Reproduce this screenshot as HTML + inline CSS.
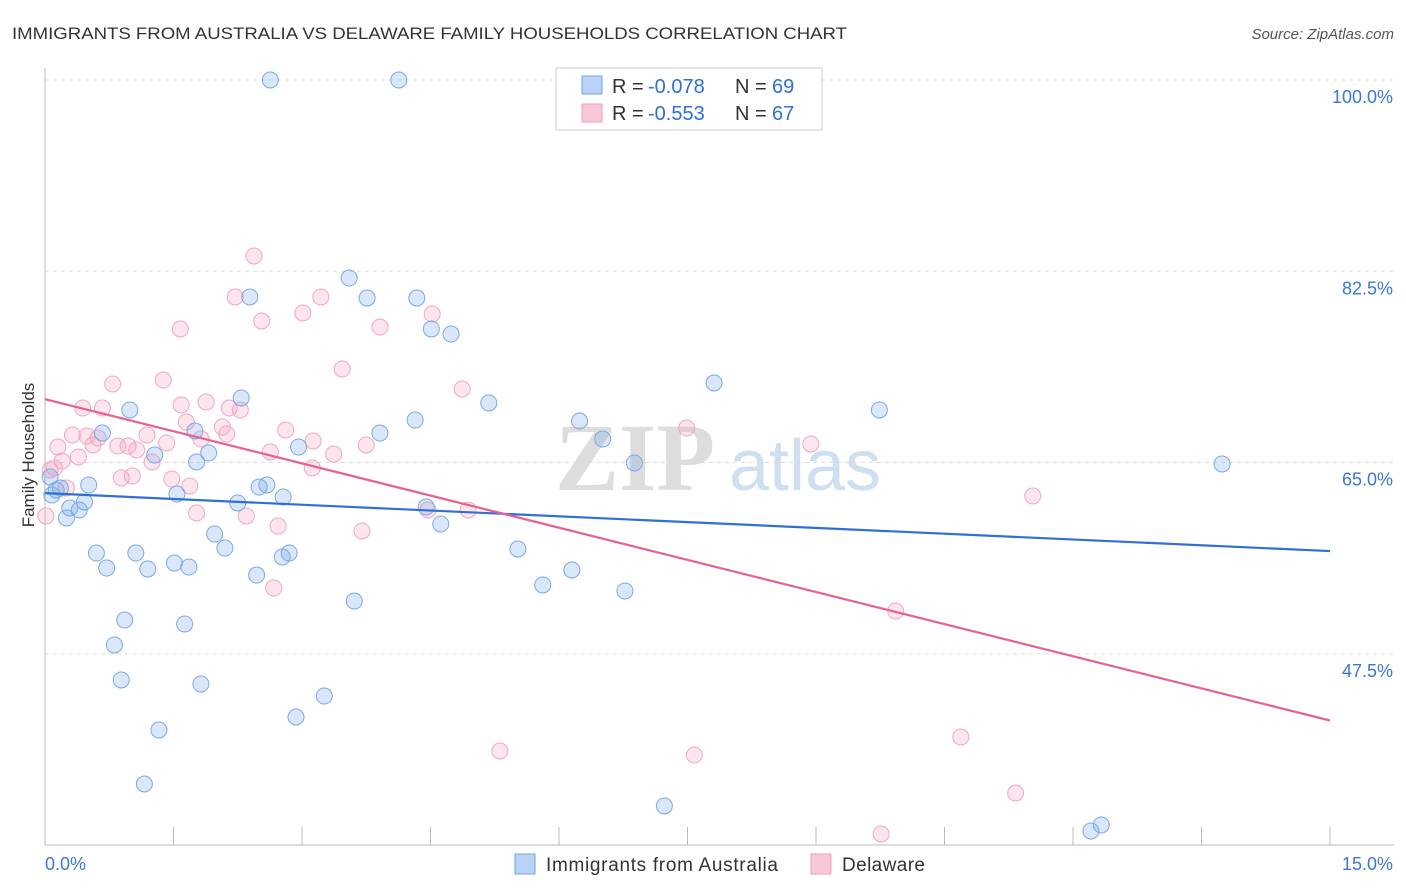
<!DOCTYPE html>
<html><head><meta charset="utf-8"><style>
body{margin:0;background:#fff;font-family:"Liberation Sans",sans-serif;}
svg{display:block}
</style></head><body>
<svg id="chart" width="1406" height="892">
<text x="12" y="39" font-size="17" fill="#333" textLength="835" lengthAdjust="spacingAndGlyphs">IMMIGRANTS FROM AUSTRALIA VS DELAWARE FAMILY HOUSEHOLDS CORRELATION CHART</text>
<text x="1394" y="39" font-size="15" fill="#555" font-style="italic" text-anchor="end">Source: ZipAtlas.com</text>
<g><text x="635" y="490" font-size="96" fill="#ddd" font-family="Liberation Serif" text-anchor="middle" font-weight="bold">ZIP</text><text x="805" y="490" font-size="72" fill="#cfdff2" text-anchor="middle">atlas</text></g>
<g id="grid"></g>
<g id="axes"></g>
<g id="points"></g>
<g id="lines"></g>
<text transform="translate(34,455) rotate(-90)" font-size="17" fill="#333" text-anchor="middle">Family Households</text>
<g>
<rect x="556" y="68" width="266" height="62" fill="#fff" stroke="#ccc"/>
<rect x="582" y="76" width="20" height="18" fill="#b8d3f5" stroke="#6fa3e0"/>
<rect x="582" y="104" width="20" height="18" fill="#f9c8d6" stroke="#eea0b8"/>
<text y="93" font-size="20" fill="#333"><tspan x="612">R =</tspan><tspan x="648" fill="#2f6fd6">-0.078</tspan><tspan x="735">N =</tspan><tspan x="772" fill="#2f6fd6">69</tspan></text>
<text y="120" font-size="20" fill="#333"><tspan x="612">R =</tspan><tspan x="648" fill="#2f6fd6">-0.553</tspan><tspan x="735">N =</tspan><tspan x="772" fill="#2f6fd6">67</tspan></text>
</g>
<g>
<rect x="515" y="854" width="20" height="20" fill="#b8d3f5" stroke="#6fa3e0"/>
<text x="546" y="871" font-size="19" fill="#333" textLength="232">Immigrants from Australia</text>
<rect x="811" y="854" width="20" height="20" fill="#f9c8d6" stroke="#eea0b8"/>
<text x="842" y="871" font-size="19" fill="#333" textLength="83">Delaware</text>
</g>
</svg>
<script>
const yTicks=[100,82.5,65,47.5];
const yTickLabels=["100.0%","82.5%","65.0%","47.5%"];
const xTickCount=11;
const bluePx=[[270,80],[399,80],[349,278],[250,297],[367,298],[417,298],[431,329],[451,334],[714,383],[489,403],[241,398],[130,410],[879,410],[415,420],[580,421],[195,431],[102,433],[380,433],[603,439],[299,447],[155,455],[209,453],[197,462],[634,463],[1222,464],[89,485],[259,487],[267,485],[56,490],[60,488],[177,494],[283,497],[238,503],[84,502],[70,508],[79,510],[426,507],[66,518],[441,524],[215,534],[225,548],[518,549],[96,553],[136,553],[289,553],[282,557],[107,568],[148,569],[174,563],[189,567],[257,575],[572,570],[543,585],[354,601],[625,591],[125,620],[185,624],[114,645],[121,680],[201,684],[324,696],[296,717],[159,730],[144,784],[664,806],[1101,825],[1091,831],[50,477],[52,495]];
const pinkPx=[[254,256],[235,297],[321,297],[303,313],[432,314],[262,321],[380,327],[180,329],[342,369],[163,380],[113,384],[462,389],[206,402],[181,405],[83,408],[102,408],[229,408],[240,410],[186,422],[72,435],[87,436],[98,438],[147,435],[286,430],[222,427],[227,434],[58,447],[93,445],[118,446],[128,446],[137,450],[201,439],[167,443],[313,441],[366,445],[687,428],[811,444],[270,452],[334,454],[78,457],[62,461],[152,462],[54,468],[121,478],[132,476],[172,479],[312,468],[190,486],[66,488],[1033,496],[428,510],[468,510],[197,513],[246,516],[278,526],[362,531],[46,516],[274,588],[896,611],[961,737],[500,751],[694,755],[1016,793],[881,834],[50,470]];
const blueX=bluePx.map(p=>+((p[0]-45)/85.67).toFixed(2));
const blueY=bluePx.map(p=>+(100-(p[1]-80)/10.93).toFixed(2));
const pinkX=pinkPx.map(p=>+((p[0]-45)/85.67).toFixed(2));
const pinkY=pinkPx.map(p=>+(100-(p[1]-80)/10.93).toFixed(2));
const blueTrend=[62.2,56.9];
const pinkTrend=[70.8,41.4];
const X=v=>45+v/15*1285, Y=v=>80+(100-v)*10.93;
const NS="http://www.w3.org/2000/svg";
function mk(tag,attrs,parent){const e=document.createElementNS(NS,tag);for(const k in attrs)e.setAttribute(k,attrs[k]);document.getElementById(parent).appendChild(e);return e;}
yTicks.forEach((t,i)=>{
 const l=mk('line',{x1:45,x2:1394,y1:Y(t),y2:Y(t),stroke:'#ddd','stroke-dasharray':'4,4'},'grid');
 
 
 const tx=mk('text',{x:1393,y:Y(t)+23,'font-size':18,fill:'#3a78d8','text-anchor':'end'},'axes');
 tx.textContent=yTickLabels[i];
 
 
});
const ax=mk('line',{x1:45,x2:1394,y1:845,y2:845,stroke:'#bbb'},'axes');


const ay=mk('line',{x1:45,x2:45,y1:68,y2:845,stroke:'#bbb'},'axes');


for(let i=0;i<xTickCount;i++){const x=X(i*1.5);const t=mk('line',{x1:x,x2:x,y1:827,y2:845,stroke:'#bbb'},'axes');
 
 }
const xl=mk('text',{x:45,y:870,'font-size':18,fill:'#3a78d8'},'axes');xl.textContent='0.0%';


const xr=mk('text',{x:1393,y:870,'font-size':18,fill:'#3a78d8','text-anchor':'end'},'axes');xr.textContent='15.0%';


function pts(xs,ys,fill,stroke,name){xs.forEach((v,i)=>{const c=mk('circle',{cx:X(v),cy:Y(ys[i]),r:8,fill:fill,stroke:stroke,'stroke-width':1},'points');
 
 });}
pts(pinkX,pinkY,'rgba(244,160,188,0.28)','#f0a8c0','delaware-point');
pts(blueX,blueY,'rgba(120,170,235,0.28)','#7aaae3','australia-point');
const bl=mk('line',{x1:X(0),y1:Y(blueTrend[0]),x2:X(15),y2:Y(blueTrend[1]),stroke:'#2f6fd6','stroke-width':2.2},'lines');


const pl=mk('line',{x1:X(0),y1:Y(pinkTrend[0]),x2:X(15),y2:Y(pinkTrend[1]),stroke:'#e8608c','stroke-width':2.2},'lines');


</script>
</body></html>
